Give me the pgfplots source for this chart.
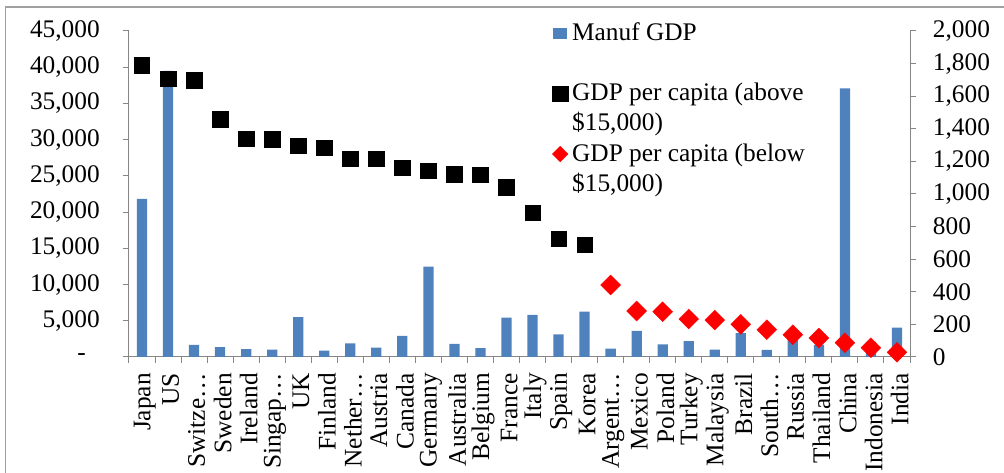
\documentclass[border=0pt]{standalone}
\usepackage{pgfplots}
\pgfplotsset{compat=1.18}
\usepackage{fontspec}
\setmainfont{Liberation Serif}
\definecolor{barblue}{RGB}{79,129,189}
\definecolor{axgray}{RGB}{134,134,134}
\definecolor{framegray}{RGB}{160,160,160}
\pgfplotsset{common/.style={
  at={(0pt,0pt)}, anchor=south west, scale only axis,
  width=585.75pt, height=244.5pt,
  xmin=-0.5, xmax=29.5, ymin=0,
  scaled y ticks=false,
  tick align=outside, major tick length=4.5pt,
  axis line style={axgray, line width=0.75pt},
  tick style={axgray, line width=0.75pt},
  every tick label/.append style={font=\fontsize{19}{21}\selectfont, text=black},
}}
\pgfplotsset{
  sqlegend/.style={legend image code/.code={\draw[mark repeat=2,mark phase=2,##1] plot coordinates {(0pt,5.3pt) (6pt,5.3pt) (12pt,5.3pt)};}},
  dmlegend/.style={legend image code/.code={\draw[mark repeat=2,mark phase=2,##1,mark size=4.2pt] plot coordinates {(0pt,5.3pt) (6pt,5.3pt) (12pt,5.3pt)};}},
  barlegend/.style={legend image code/.code={\fill[barblue] (0.5pt,1.5pt) rectangle (10.25pt,9pt);}},
}
\begin{document}
\fontsize{19}{21}\selectfont
\begin{tikzpicture}
\useasboundingbox (-96.75pt,-87pt) rectangle (656.25pt,267.75pt);
\draw[framegray, line width=1.2pt] (-92.6pt,-100pt) -- (-92.6pt,262.5pt) -- (700pt,262.5pt);
% bars: Manuf GDP on right axis
\begin{axis}[common,
  ymax=2000,
  axis y line*=right, axis x line*=bottom,
  ytick={0,200,...,2000},
  yticklabels={0,200,400,600,800,{1,000},{1,200},{1,400},{1,600},{1,800},{2,000}},
  yticklabel style={anchor=west, inner sep=0pt},
  yticklabel shift=12.5pt,
  xtick={-0.5,0.5,...,29.5},
  x tick label as interval,
  xticklabels={Japan,US,Switze\ldots,Sweden,Ireland,Singap\ldots,UK,Finland,Nether\ldots,Austria,Canada,Germany,Australia,Belgium,France,Italy,Spain,Korea,Argent\ldots,Mexico,Poland,Turkey,Malaysia,Brazil,South\ldots,Russia,Thailand,China,Indonesia,India},
  xticklabel style={xshift=2pt, rotate=90, anchor=east, inner sep=0pt},
  xticklabel shift=7.5pt,
]
\addplot[ybar, bar width=7.7pt, bar shift=0pt, fill=barblue, draw=none] coordinates {
(0,970) (1,1756) (2,74) (3,61) (4,49) (5,45) (6,245) (7,39) (8,84) (9,57)
(10,129) (11,554) (12,80) (13,55) (14,241) (15,258) (16,139) (17,278) (18,51) (19,161)
(20,78) (21,98) (22,45) (23,147) (24,43) (25,120) (26,74) (27,1648) (28,92) (29,180)
};
\end{axis}
% markers: GDP per capita on left axis
\begin{axis}[common,
  ymax=45000,
  axis y line*=left, axis x line=none,
  ytick={0,5000,...,45000},
  yticklabels={-\hspace{10.5pt}\null,{5,000},{10,000},{15,000},{20,000},{25,000},{30,000},{35,000},{40,000},{45,000}},
  yticklabel style={anchor=east, inner sep=0pt},
  yticklabel shift=17.25pt,
  clip=false,
  legend style={at={(0.5416,1.031)}, anchor=north west, draw=none, fill=none,
    inner sep=0pt, row sep=5pt, column sep=3pt,
    font=\fontsize{19}{21}\selectfont,
    nodes={inner sep=0pt}, cells={anchor=base west}},
]
\addlegendimage{barlegend}
\addlegendentry{\strut Manuf GDP}
\addlegendimage{empty legend}
\addlegendentry{\strut\mbox{}}
\addplot[only marks, mark=square*, mark size=5.8pt, mark options={fill=black, draw=black, line width=0.4pt}, sqlegend]
coordinates {
(0,40260) (1,38370) (2,38230) (3,32810) (4,30090) (5,30050) (6,29170) (7,28850) (8,27330)
(9,27330) (10,26090) (11,25680) (12,25220) (13,25120) (14,23420) (15,19920) (16,16290) (17,15460)
};
\addlegendentry{\strut GDP per capita (above}
\addlegendimage{empty legend}
\addlegendentry{\strut\$15,000)}
\addplot[only marks, mark=square*, mark size=5.3pt, mark options={fill=red, draw=red, line width=0.2pt, rotate=45}, dmlegend]
coordinates {
(18,9940) (19,6350) (20,6250) (21,5240) (22,5100) (23,4510) (24,3770) (25,3080) (26,2620)
(27,1970) (28,1280) (29,650)
};
\addlegendentry{\strut GDP per capita (below}
\addlegendimage{empty legend}
\addlegendentry{\strut\$15,000)}
\end{axis}
\end{tikzpicture}
\end{document}
